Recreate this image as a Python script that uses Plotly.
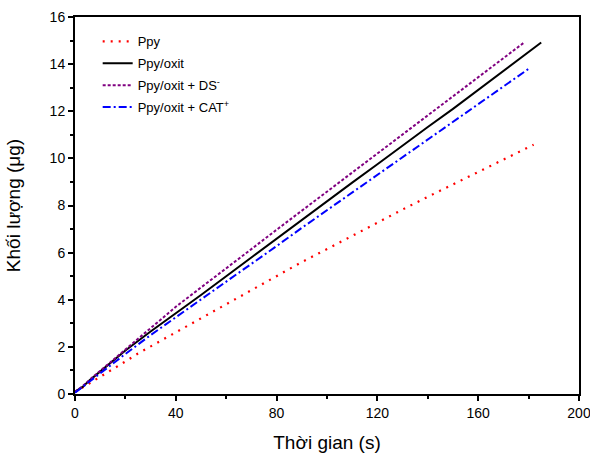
import plotly.graph_objects as go

# Ppy
x_ppy = [0, 5, 10, 15, 20, 25, 30, 35, 40, 50, 60, 70, 80, 90, 100, 110, 120, 130, 140, 150, 160, 170, 182]
y_ppy = [0.08, 0.4, 0.72, 1.05, 1.38, 1.72, 2.02, 2.32, 2.62, 3.22, 3.8, 4.4, 5.0, 5.6, 6.15, 6.72, 7.28, 7.83, 8.37, 8.9, 9.43, 9.97, 10.58]

# Ppy/oxit
x_oxit = [0, 3, 6, 10, 15, 20, 30, 40, 50, 60, 70, 80, 90, 100, 110, 120, 130, 140, 150, 160, 170, 180, 185]
y_oxit = [0.1, 0.3, 0.6, 0.95, 1.42, 1.85, 2.65, 3.42, 4.2, 5.0, 5.8, 6.58, 7.38, 8.18, 8.97, 9.75, 10.55, 11.33, 12.1, 12.9, 13.7, 14.5, 14.92]

# Ppy/oxit + DS-
x_ds = [0, 3, 6, 10, 15, 20, 30, 40, 50, 60, 70, 80, 90, 100, 110, 120, 130, 140, 150, 160, 170, 178]
y_ds = [0.1, 0.33, 0.62, 0.98, 1.45, 1.92, 2.8, 3.7, 4.52, 5.35, 6.15, 6.97, 7.78, 8.6, 9.4, 10.2, 11.02, 11.83, 12.65, 13.45, 14.27, 14.9]

# Ppy/oxit + CAT+
x_cat = [0, 3, 6, 10, 15, 20, 30, 40, 50, 60, 70, 80, 90, 100, 110, 120, 130, 140, 150, 160, 170, 180]
y_cat = [0.05, 0.3, 0.55, 0.9, 1.3, 1.7, 2.5, 3.25, 4.0, 4.75, 5.5, 6.28, 7.05, 7.8, 8.55, 9.28, 10.05, 10.8, 11.55, 12.3, 13.05, 13.8]

names = ["Ppy", "Ppy/oxit", "Ppy/oxit + DS<sup>-</sup>", "Ppy/oxit + CAT<sup>+</sup>"]

fig = go.Figure()
fig.add_trace(go.Scatter(x=x_ppy, y=y_ppy, mode="lines", name=names[0], legendgroup="a",
                         line=dict(color="#FF0000", width=2.2, dash="2px,6px")))
fig.add_trace(go.Scatter(x=x_oxit, y=y_oxit, mode="lines", name=names[1], legendgroup="b",
                         line=dict(color="#000000", width=2)))
fig.add_trace(go.Scatter(x=x_ds, y=y_ds, mode="lines", name=names[2], legendgroup="c",
                         line=dict(color="#800080", width=2, dash="3px,2px")))
fig.add_trace(go.Scatter(x=x_cat, y=y_cat, mode="lines", name=names[3], legendgroup="d",
                         line=dict(color="#0000FF", width=2, dash="8px,3px,2px,3px")))

font_family = "Liberation Sans, Arial, sans-serif"
fig.update_layout(
    width=590, height=453,
    margin=dict(l=75, r=11, t=17, b=59),
    paper_bgcolor="white", plot_bgcolor="white",
    font=dict(family=font_family, color="black"),
    showlegend=True,
    legend=dict(x=0.045, y=0.975, xanchor="left", yanchor="top",
                bgcolor="rgba(0,0,0,0)", font=dict(size=13, family=font_family),
                itemwidth=30, tracegroupgap=2),
    xaxis=dict(range=[0, 200], tickvals=[0, 40, 80, 120, 160, 200],
               ticks="outside", ticklen=5, tickwidth=1.5, tickcolor="black",
               minor=dict(tickvals=[20, 60, 100, 140, 180], ticks="outside", ticklen=3, tickwidth=1.5, tickcolor="black"),
               showline=True, linecolor="black", linewidth=2, mirror=True,
               showgrid=False, zeroline=False, automargin=False,
               ticklabeloverflow="allow",
               tickfont=dict(size=14),
               title=dict(text="Thời gian (s)", font=dict(size=19), standoff=16)),
    yaxis=dict(range=[0, 16], tickvals=[0, 2, 4, 6, 8, 10, 12, 14, 16],
               ticks="outside", ticklen=5, tickwidth=1.5, tickcolor="black",
               minor=dict(tickvals=[1, 3, 5, 7, 9, 11, 13, 15], ticks="outside", ticklen=3, tickwidth=1.5, tickcolor="black"),
               showline=True, linecolor="black", linewidth=2, mirror=True,
               showgrid=False, zeroline=False, automargin=False,
               ticklabeloverflow="allow",
               tickfont=dict(size=14),
               title=dict(text="Khối lượng (μg)", font=dict(size=19), standoff=24)),
)

fig.write_html("out.html")
